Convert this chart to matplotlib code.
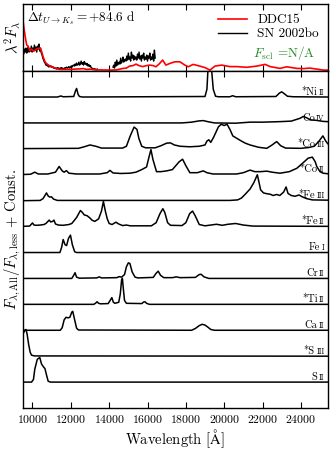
import numpy as np
import matplotlib
matplotlib.use('Agg')
import matplotlib.pyplot as plt
from matplotlib import transforms

plt.rcParams['font.family'] = ['cmr10', 'DejaVu Serif']
plt.rcParams['mathtext.fontset'] = 'cm'
plt.rcParams['axes.formatter.use_mathtext'] = True
plt.rcParams['axes.linewidth'] = 1.0

# --- top panel: model (DDC15) and observed (SN 2002bo) lambda^2 F_lambda ---
model_wl = [9500, 9560, 9640, 9700, 9770, 9860, 9950, 10050, 10150, 10250, 10380,
            10470, 10550, 10650, 10730, 10900, 11080, 11250, 11430, 11700, 11950,
            12200, 12470, 12650, 12820, 13000, 13340, 13600, 14040, 14380, 14560,
            14730, 14900, 15060, 15250, 15400, 15550, 15750, 15950, 16100, 16300,
            16440, 16600, 16790, 16960, 17170, 17430, 17690, 17950, 18130, 18380,
            18730, 19000, 19260, 19520, 19870, 20300, 20650, 21180, 21700, 22140,
            22400, 22910, 23260, 23790, 24140, 24480, 24830, 25180, 25400]
model_fl = [5.1, 4.2, 3.2, 2.6, 2.5, 2.05, 2.2, 2.0, 2.1, 2.25, 2.3,
            2.0, 1.45, 0.95, 0.75, 0.5, 0.37, 0.25, 0.17, 0.17, 0.17,
            0.2, 0.22, 0.25, 0.17, 0.2, 0.12, 0.12, 0.1, 0.12, 0.2,
            0.27, 0.3, 0.5, 0.55, 0.7, 0.55, 0.45, 0.55, 0.6, 0.55,
            0.43, 0.7, 1.1, 0.6, 0.77, 0.93, 0.93, 0.6, 0.43, 0.67,
            0.5, 0.35, 0.1, 0.5, 0.6, 0.45, 0.45, 0.38, 0.5, 0.67,
            0.45, 0.27, 0.43, 0.27, 0.25, 0.3, 0.2, 0.1, 0.1]

obs1_wl = np.arange(9500, 13420, 40)
obs1_fl = [2.0, 1.7, 2.2, 1.9, 2.3, 1.8, 2.1, 2.4, 1.9, 2.2, 2.0, 2.5, 1.9,
           2.3, 2.0, 2.6, 2.1, 2.4, 1.9, 2.5, 2.2, 2.7, 2.0, 2.3, 1.8,
           1.6, 1.3, 1.1, 0.9, 0.8, 0.6,
           0.7, 0.5, 0.6, 0.4, 0.55, 0.45, 0.5, 0.35, 0.45, 0.3,
           0.35, 0.25, 0.3, 0.2, 0.35, 0.25, 0.3, 0.2, 0.3, 0.35, 0.25, 0.3, 0.2,
           0.25, 0.35, 0.3, 0.4, 0.3, 0.35, 0.45, 0.3, 0.4, 0.5, 0.4, 0.55,
           0.6, 0.5, 0.7, 0.55, 0.8, 0.6, 0.65, 0.9, 0.6, 0.75, 1.0, 0.7, 0.85,
           0.6, 0.95, 0.7, 0.8, 0.6, 0.75, 0.5, 0.65, 0.45, 0.55, 0.35, 0.3,
           0.25, 0.2, 0.25, 0.15, 0.2, 0.15, 0.2]
obs2_wl = np.arange(14200, 16440, 40)
obs2_fl = [0.4, 0.6, 0.3, 0.9, 0.5, 1.1, 0.6, 0.8,
           0.9, 0.7, 1.3, 0.8, 1.0, 1.4, 0.9, 1.1, 1.2,
           1.0, 1.5, 1.1, 1.8, 1.2, 1.4, 1.0, 1.9, 1.3, 1.6, 1.1, 1.5, 1.2,
           1.4, 1.1, 1.7, 1.3, 1.9, 1.2, 1.5, 1.0, 1.6, 1.3, 1.8, 1.1, 1.4,
           1.2, 1.6, 1.0, 1.5, 1.3, 1.8, 1.1, 1.4, 1.2, 1.7, 1.0, 2.1, 1.3]

# --- bottom panel: F_all / F_less per ion, (wavelength, ratio-1) ---
ni2 = [(9500, 0.0), (11300, 0.0), (11480, 0.04), (11600, 0.01), (12150, 0.02),
       (12250, 0.25), (12300, 0.33), (12380, 0.1), (12450, 0.02), (12600, 0.0),
       (19000, 0.02), (19100, 0.3), (19150, 1.0), (19250, 1.5), (19350, 1.0),
       (19430, 0.3), (19550, 0.03), (19700, 0.01), (20300, 0.01), (20440, 0.05),
       (20600, 0.01), (22700, 0.02), (22880, 0.15), (23000, 0.2), (23150, 0.12),
       (23300, 0.03), (23600, 0.01), (25400, 0.0)]
co4 = [(9500, 0.0), (17800, 0.0), (18300, 0.03), (18700, 0.08), (18910, 0.09),
       (19200, 0.04), (19500, 0.0), (20600, -0.01), (21350, 0.03), (22000, 0.03),
       (22910, 0.05), (23500, 0.07), (23960, 0.18), (24130, 0.25), (24300, 0.2),
       (24480, 0.12), (24800, 0.1), (25160, 0.06), (25400, 0.05)]
co3 = [(9500, 0.01), (12400, 0.02), (12700, 0.08), (13000, 0.15), (13300, 0.1),
       (13600, 0.03), (14700, 0.03), (14900, 0.1), (15100, 0.5), (15300, 0.84),
       (15450, 0.75), (15550, 0.4), (15700, 0.1), (15900, 0.04), (16400, 0.04),
       (16700, 0.12), (17000, 0.22), (17200, 0.23), (17400, 0.15), (17700, 0.1),
       (18200, 0.08), (18700, 0.1), (19000, 0.15), (19100, 0.3), (19200, 0.35),
       (19300, 0.25), (19450, 0.45), (19700, 0.85), (19850, 0.95), (20000, 0.9),
       (20150, 0.95), (20300, 0.75), (20450, 0.5), (20650, 0.41), (20900, 0.3),
       (21100, 0.22), (21350, 0.15), (21800, 0.06), (22220, 0.02), (22500, 0.15),
       (22740, 0.28), (22950, 0.12), (23200, 0.03), (24000, 0.02), (24400, 0.05),
       (24700, 0.1), (24950, 0.3), (25150, 0.5), (25300, 0.3), (25400, 0.2)]
co2 = [(9500, 0.01), (9900, 0.02), (10120, 0.1), (10300, 0.03), (10800, 0.03),
       (11200, 0.1), (11390, 0.32), (11550, 0.15), (11650, 0.1), (11770, 0.16),
       (11900, 0.06), (12300, 0.03), (13500, 0.03), (13900, 0.08), (14040, 0.17),
       (14200, 0.07), (14600, 0.05), (15080, 0.06), (15400, 0.1), (15700, 0.2),
       (15950, 0.3), (16100, 0.75), (16180, 0.97), (16280, 0.6), (16470, 0.12),
       (16700, 0.12), (17000, 0.15), (17300, 0.2), (17650, 0.5), (17830, 0.6),
       (18000, 0.35), (18210, 0.08), (18600, 0.08), (18910, 0.15), (19100, 0.08),
       (19420, 0.03), (20650, 0.03), (21000, 0.08), (21350, 0.18), (21600, 0.12),
       (21900, 0.12), (22220, 0.14), (22500, 0.1), (22910, 0.06), (23400, 0.12),
       (23790, 0.25), (24100, 0.45), (24380, 0.64), (24600, 0.68), (24750, 0.5),
       (24830, 0.32), (25000, 0.12), (25160, 0.06), (25400, 0.04)]
fe3 = [(9500, 0.0), (10400, 0.01), (10550, 0.08), (10650, 0.2), (10730, 0.3),
       (10820, 0.18), (10900, 0.14), (10990, 0.15), (11100, 0.06), (11300, 0.01),
       (20300, 0.01), (20700, 0.03), (20900, 0.1), (21100, 0.25), (21350, 0.45),
       (21550, 0.7), (21730, 1.0), (21820, 0.7), (21900, 0.42), (22050, 0.3),
       (22220, 0.27), (22400, 0.25), (22550, 0.2), (22740, 0.24), (22900, 0.2),
       (23100, 0.33), (23230, 0.53), (23330, 0.28), (23500, 0.2), (23700, 0.17),
       (23900, 0.22), (24100, 0.14), (24300, 0.08), (24600, 0.03), (25400, 0.02)]
fe2 = [(9500, 0.01), (9850, 0.02), (9950, 0.1), (10000, 0.14), (10080, 0.06),
       (10200, 0.05), (10400, 0.06), (10600, 0.08), (10700, 0.12), (10870, 0.25),
       (10950, 0.18), (11050, 0.2), (11120, 0.25), (11200, 0.1), (11350, 0.06),
       (11600, 0.05), (11900, 0.08), (12050, 0.12), (12300, 0.35), (12500, 0.62),
       (12600, 0.55), (12700, 0.45), (12850, 0.42), (13000, 0.33), (13100, 0.25),
       (13250, 0.2), (13450, 0.3), (13600, 0.6), (13700, 0.97), (13800, 0.6),
       (13900, 0.3), (14000, 0.12), (14150, 0.08), (14350, 0.17), (14500, 0.1),
       (14700, 0.04), (14900, 0.06), (15100, 0.03), (16200, 0.03), (16450, 0.15),
       (16650, 0.5), (16800, 0.69), (16900, 0.55), (17050, 0.15), (17200, 0.05),
       (17800, 0.04), (18000, 0.15), (18200, 0.5), (18350, 0.6), (18500, 0.4),
       (18700, 0.08), (19000, 0.03), (19400, 0.07), (19600, 0.09), (19900, 0.05),
       (20200, 0.09), (20600, 0.12), (21000, 0.06), (21500, 0.02), (25400, 0.01)]
fe1 = [(9500, 0.0), (11430, 0.0), (11520, 0.2), (11600, 0.5), (11700, 0.3),
       (11780, 0.27), (11880, 0.55), (11980, 0.67), (12080, 0.3), (12200, 0.03),
       (12300, 0.0), (25400, 0.0)]
cr2 = [(9500, 0.0), (12050, 0.0), (12150, 0.12), (12220, 0.22), (12300, 0.05),
       (12450, 0.01), (13350, 0.02), (13480, 0.06), (13600, 0.02), (14400, 0.03),
       (14520, 0.07), (14650, 0.05), (14800, 0.15), (14900, 0.45), (15000, 0.6),
       (15080, 0.58), (15200, 0.25), (15350, 0.05), (15500, 0.02), (16300, 0.04),
       (16450, 0.2), (16560, 0.28), (16680, 0.12), (16850, 0.03), (17300, 0.03),
       (17500, 0.06), (17700, 0.03), (18500, 0.04), (18700, 0.15), (18800, 0.16),
       (18950, 0.06), (19200, 0.0), (25400, 0.0)]
ti2 = [(9500, 0.0), (13200, 0.0), (13300, 0.05), (13370, 0.1), (13450, 0.04),
       (13550, 0.02), (13950, 0.03), (14050, 0.15), (14140, 0.26), (14220, 0.08),
       (14300, 0.04), (14500, 0.08), (14580, 0.4), (14650, 0.95), (14690, 1.0),
       (14740, 0.6), (14800, 0.15), (14900, 0.04), (15700, 0.03), (15800, 0.09),
       (15870, 0.1), (15950, 0.04), (16100, 0.0), (25400, 0.0)]
ca2 = [(9500, 0.0), (11450, 0.0), (11550, 0.1), (11650, 0.4), (11750, 0.5),
       (11850, 0.48), (11950, 0.5), (12050, 0.7), (12100, 0.73), (12200, 0.4),
       (12300, 0.08), (12400, 0.01), (18300, 0.0), (18500, 0.07), (18700, 0.18),
       (18850, 0.23), (19000, 0.2), (19150, 0.12), (19300, 0.03), (19500, 0.0),
       (25400, 0.0)]
s3 = [(9500, 0.85), (9600, 1.0), (9660, 1.03), (9720, 0.85), (9800, 0.45),
      (9880, 0.15), (9950, 0.04), (10100, 0.01), (25400, 0.0)]
s2 = [(9500, 0.0), (9950, 0.0), (10050, 0.1), (10120, 0.5), (10250, 0.88),
      (10380, 0.95), (10470, 0.7), (10560, 0.6), (10650, 0.52), (10740, 0.25),
      (10820, 0.03), (10950, 0.0), (25400, 0.0)]

ion_names = ['*Ni', 'Co', '*Co', '*Co', '*Fe', '*Fe', 'Fe', 'Cr', '*Ti', 'Ca', '*S', 'S']
ion_stages = ['II', 'IV', 'III', 'II', 'III', 'II', 'I', 'II', 'II', 'II', 'III', 'II']
ion_spectra = [ni2, co4, co3, co2, fe3, fe2, fe1, cr2, ti2, ca2, s3, s2]

fig = plt.figure(figsize=(3.32, 4.5), dpi=100)
ax1 = fig.add_axes([0.069, 0.842, 0.918, 0.149])
ax2 = fig.add_axes([0.069, 0.0933, 0.918, 0.7487])

ax1.plot(obs1_wl, obs1_fl, color='k', lw=1.0, label='SN 2002bo')
ax1.plot(obs2_wl, obs2_fl, color='k', lw=1.0)
ax1.plot(model_wl, model_fl, color='r', lw=1.2, label='DDC15')
ax1.set_xlim(9500, 25400)
ax1.set_ylim(0, 6.7)
ax1.set_yticks([])
ax1.set_xticks(np.arange(10000, 25000, 2000))
ax1.tick_params(axis='x', direction='in', top=True, bottom=True, labelbottom=False,
                length=4, width=0.8)
ax1.set_ylabel(r'$\lambda^2 F_\lambda$', fontsize=10.5, labelpad=1)
ax1.text(0.012, 0.93, r'$\Delta t_{U\rightarrow K_s}=+84.6$ d', transform=ax1.transAxes,
         ha='left', va='top', fontsize=9.5)
h, l = ax1.get_legend_handles_labels()
ax1.legend(h[::-1], l[::-1], loc='upper left', bbox_to_anchor=(0.6, 1.03), frameon=False,
           fontsize=9.5, labelspacing=0.15, handlelength=2.2, handletextpad=0.8)
ax1.text(0.755, 0.27, r'$F_{\rm scl}$ =N/A', transform=ax1.transAxes, color='forestgreen',
         ha='left', va='center', fontsize=9.5)

renderer = fig.canvas.get_renderer()
trans = transforms.blended_transform_factory(ax2.transAxes, ax2.transData)
n = len(ion_spectra)
for i, spec in enumerate(ion_spectra):
    off = n - 1 - i
    wl, fl = np.array(spec).T
    ax2.plot(wl, fl + off, color='k', lw=1.1)
    t = ax2.text(0.99, off + 0.09, ion_stages[i], transform=trans, ha='right',
                 va='baseline', fontsize=5.5)
    w = t.get_window_extent(renderer).width
    ax2.text(0.99, off + 0.09, ion_names[i],
             transform=transforms.offset_copy(trans, fig=fig, x=-(w + 1.5), units='dots'),
             ha='right', va='baseline', fontsize=7.5)

ax2.set_xlim(9500, 25400)
ax2.set_ylim(-1, 12)
ax2.set_yticks([])
ax2.set_xticks(np.arange(10000, 25000, 2000))
ax2.tick_params(axis='x', direction='in', top=True, bottom=True, length=4, width=0.8,
                labelsize=8.5)
ax2.set_xlabel(r'Wavelength [$\mathrm{\AA}$]', fontsize=10.5, labelpad=2)
ax2.set_ylabel(r'$F_{\lambda,\mathrm{All}}/F_{\lambda,\mathrm{less}}$ + Const.', fontsize=10.5,
               labelpad=0)

fig.savefig('out.png', dpi=100)
